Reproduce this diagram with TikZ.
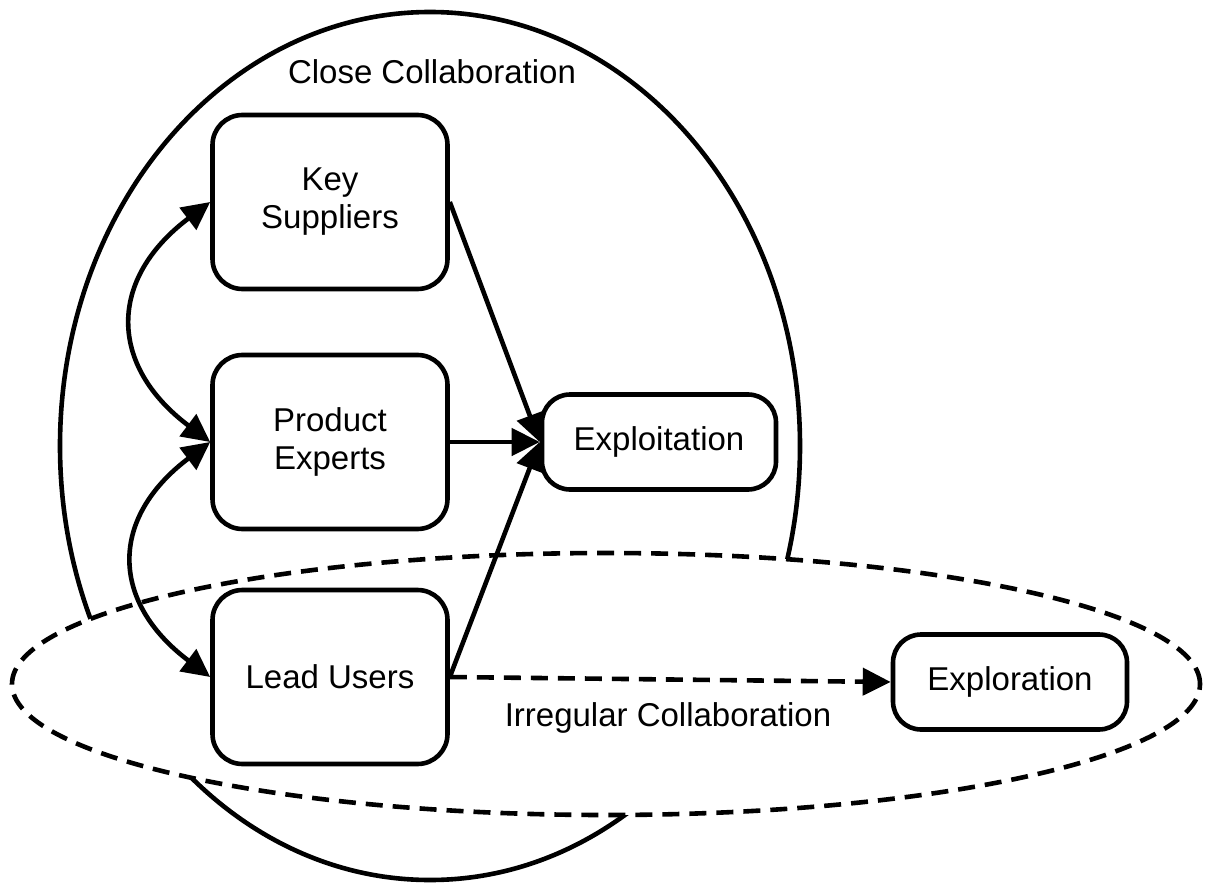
\documentclass[tikz,border=0pt]{standalone}
\usepackage{fontspec}
\setmainfont{Liberation Sans}
\usetikzlibrary{arrows.meta}
\begin{document}
\begin{tikzpicture}[x=1pt, y=-1pt, line width=4.6pt, line join=round,
  txt/.style={font=\fontsize{33}{38}\selectfont},
  box/.style={txt, draw, fill=white, rounded corners=30pt, align=center,
    minimum width=235pt, minimum height=174pt, inner sep=0pt},
  pill/.style={txt, draw, fill=white, rounded corners=28pt,
    minimum width=234pt, minimum height=95pt, inner sep=0pt},
  blk/.tip={Triangle[length=28pt, width=27pt]},
  tipend/.style={-blk},
  tipboth/.style={blk-blk},
  dashline/.style={dash pattern=on 17pt off 10pt},
  ]
\useasboundingbox (0,0) rectangle (1206,885);

% close-collaboration boundary, partly hidden by the irregular one
\draw (430,446) ellipse [x radius=370pt, y radius=434pt];
\draw[fill=white, dashline] (606,684) ellipse [x radius=594pt, y radius=131pt];

\node[txt] (close) at (432,72) {Close Collaboration};
\node[txt] (irreg) at (668,718) {Irregular Collaboration};

\node[box] (ks) at (330,202) {Key\\Suppliers};
\node[box] (pe) at (330,442) {Product\\Experts};
\node[box] (lu) at (330,677) {Lead Users};
\node[pill] (exploit) at (659,442) {Exploitation};
\node[pill] (explore) at (1010,682) {Exploration};

\draw[tipend] (ks.east) -- (exploit.west);
\draw[tipend] (pe.east) -- (exploit.west);
\draw[tipend] (lu.east) -- (exploit.west);
\draw[tipend, dashline] (lu.east) -- (explore.west);

\draw[tipboth] (ks.west) .. controls +(217:128pt) and +(143:128pt) .. (pe.west);
\draw[tipboth] (pe.west) .. controls +(217:126pt) and +(143:126pt) .. (lu.west);
\end{tikzpicture}
\end{document}
